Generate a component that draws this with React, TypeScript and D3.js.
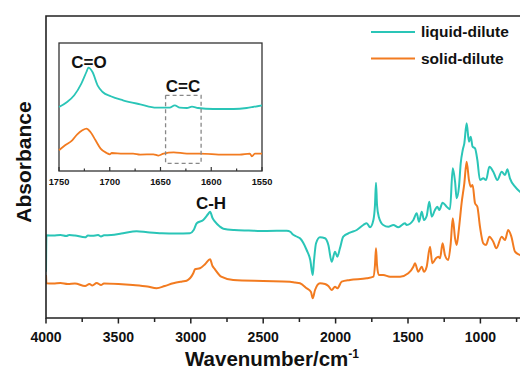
import React from 'react';
import * as d3 from 'd3';

// main spectrum, wavenumber (cm-1) and absorbance (a.u.)
const liquidWn = [4000, 3997, 3950, 3900, 3860, 3840, 3800, 3730, 3710, 3680, 3640, 3620, 3600, 3550, 3480, 3400, 3374, 3300, 3200, 3100, 3006, 2980, 2959, 2914, 2880, 2867, 2850, 2833, 2800, 2775, 2700, 2600, 2476, 2338, 2310, 2303, 2270, 2246, 2200, 2175, 2158, 2150, 2135, 2108, 2073, 2050, 2027, 2004, 1988, 1970, 1947, 1901, 1854, 1809, 1785, 1762, 1739, 1728, 1721, 1714, 1702, 1671, 1636, 1601, 1567, 1521, 1509, 1463, 1440, 1424, 1405, 1390, 1371, 1353, 1336, 1314, 1298, 1284, 1261, 1233, 1210, 1191, 1175, 1164, 1148, 1136, 1122, 1111, 1095, 1079, 1067, 1054, 1037, 1021, 1003, 980, 961, 938, 911, 883, 853, 830, 814, 796, 761, 727, 700];
const liquidAbs = [0.463, 0.827, 0.825, 0.83, 0.82, 0.83, 0.825, 0.807, 0.825, 0.822, 0.83, 0.815, 0.827, 0.83, 0.845, 0.865, 0.867, 0.857, 0.847, 0.845, 0.847, 0.88, 0.947, 0.98, 1.04, 1.063, 1.0, 0.963, 0.915, 0.893, 0.88, 0.875, 0.87, 0.873, 0.86, 0.847, 0.815, 0.797, 0.68, 0.58, 0.43, 0.56, 0.747, 0.807, 0.797, 0.73, 0.563, 0.663, 0.613, 0.697, 0.813, 0.853, 0.88, 0.93, 0.947, 0.907, 0.98, 1.13, 1.353, 1.13, 1.013, 0.93, 0.913, 0.93, 0.907, 0.947, 0.93, 0.98, 1.047, 0.963, 1.063, 0.98, 1.02, 1.163, 1.013, 1.08, 1.113, 1.08, 1.153, 1.113, 1.087, 1.497, 1.363, 1.197, 1.313, 1.547, 1.68, 1.747, 1.947, 1.763, 1.813, 1.713, 1.697, 1.58, 1.38, 1.397, 1.38, 1.513, 1.463, 1.38, 1.463, 1.43, 1.487, 1.397, 1.313, 1.263, 1.24];

const solidWn = [4000, 3997, 3950, 3900, 3850, 3800, 3730, 3700, 3680, 3650, 3620, 3600, 3500, 3400, 3300, 3236, 3180, 3121, 3060, 3029, 2983, 2971, 2937, 2900, 2867, 2850, 2833, 2790, 2707, 2500, 2315, 2280, 2246, 2200, 2170, 2158, 2142, 2108, 2073, 2050, 2027, 2004, 1988, 1958, 1901, 1785, 1739, 1728, 1721, 1714, 1702, 1671, 1624, 1555, 1498, 1463, 1452, 1429, 1405, 1390, 1371, 1348, 1332, 1307, 1291, 1279, 1261, 1245, 1222, 1205, 1191, 1175, 1164, 1148, 1130, 1111, 1095, 1079, 1067, 1054, 1037, 1021, 1003, 980, 961, 938, 911, 890, 853, 830, 808, 786, 761, 727, 700];
const solidAbs = [0.43, 0.347, 0.345, 0.35, 0.34, 0.345, 0.32, 0.34, 0.325, 0.35, 0.33, 0.345, 0.34, 0.33, 0.315, 0.297, 0.32, 0.347, 0.365, 0.373, 0.447, 0.487, 0.497, 0.54, 0.587, 0.52, 0.487, 0.413, 0.38, 0.37, 0.363, 0.355, 0.347, 0.297, 0.26, 0.197, 0.28, 0.347, 0.34, 0.32, 0.28, 0.313, 0.297, 0.363, 0.38, 0.397, 0.413, 0.53, 0.697, 0.53, 0.43, 0.43, 0.413, 0.413, 0.447, 0.513, 0.547, 0.463, 0.513, 0.463, 0.513, 0.713, 0.547, 0.597, 0.613, 0.597, 0.747, 0.63, 0.58, 0.747, 0.997, 0.797, 0.73, 0.897, 1.147, 1.347, 1.563, 1.38, 1.313, 1.33, 1.147, 1.113, 0.913, 0.747, 0.73, 0.813, 0.763, 0.697, 0.813, 0.78, 0.88, 0.813, 0.663, 0.63, 0.61];

// inset: 1750-1550 cm-1
const insetLiquidWn = [1750, 1742, 1735, 1728, 1723, 1721, 1717, 1712, 1707, 1699, 1687, 1670, 1654, 1641, 1636, 1631, 1624, 1619, 1613, 1598, 1578, 1565, 1559, 1550];
const insetLiquidAbs = [0.64, 0.69, 0.757, 0.874, 0.99, 1.034, 0.99, 0.857, 0.79, 0.747, 0.707, 0.667, 0.634, 0.634, 0.657, 0.634, 0.63, 0.644, 0.63, 0.62, 0.62, 0.63, 0.64, 0.657];
const insetSolidWn = [1750, 1744, 1737, 1732, 1727, 1723, 1719, 1714, 1709, 1703, 1700, 1698, 1687, 1677, 1670, 1657, 1652, 1647, 1637, 1624, 1611, 1588, 1572, 1562, 1560, 1557, 1550];
const insetSolidAbs = [0.207, 0.257, 0.307, 0.367, 0.407, 0.424, 0.39, 0.307, 0.224, 0.18, 0.167, 0.18, 0.174, 0.174, 0.164, 0.167, 0.154, 0.174, 0.187, 0.174, 0.174, 0.164, 0.164, 0.174, 0.147, 0.174, 0.174];

const mainTicks = [4000, 3500, 3000, 2500, 2000, 1500, 1000];
const mainMinor = [3750, 3250, 2750, 2250, 1750, 1250, 750];
const insetTicks = [1750, 1700, 1650, 1600, 1550];
const insetMinor = [1725, 1675, 1625, 1575];

const seriesNames = ['liquid-dilute', 'solid-dilute'];
const colors = ['#2ac5b7', '#f27b20'];

const font = '"Liberation Sans", Arial, sans-serif';

type Pt = { wn: number; a: number };
const zip = (w: number[], a: number[]): Pt[] => w.map((wn, i) => ({ wn, a: a[i] }));

export default function App() {
  const W = 520, H = 372;
  const m = { left: 46, top: 16, bottom: 318 };

  // axis runs past the right edge of the picture (cut off like the original)
  const x = d3.scaleLinear().domain([4000, 400]).range([m.left, m.left + 3600 * 0.1448]);
  const y = d3.scaleLinear().domain([0, 3.02]).range([m.bottom, m.top]);

  const ins = { left: 59, right: 262, top: 43, bottom: 171 };
  const ix = d3.scaleLinear().domain([1750, 1550]).range([ins.left, ins.right]);
  const iy = d3.scaleLinear().domain([0, 1.28]).range([ins.bottom, ins.top]);

  const line = d3.line<Pt>().x(d => x(d.wn)).y(d => y(d.a)).curve(d3.curveMonotoneX);
  const iline = d3.line<Pt>().x(d => ix(d.wn)).y(d => iy(d.a)).curve(d3.curveMonotoneX);

  const mainData = [zip(liquidWn, liquidAbs), zip(solidWn, solidAbs)];
  const insetData = [zip(insetLiquidWn, insetLiquidAbs), zip(insetSolidWn, insetSolidAbs)];

  return (
    <div style={{ position: 'absolute', left: 0, top: 0 }}>
      <svg width={W} height={H} style={{ display: 'block', background: '#fff' }} fontFamily={font}>
        <defs>
          <clipPath id="plot">
            <rect x={m.left} y={m.top} width={W - m.left} height={m.bottom - m.top} />
          </clipPath>
        </defs>

        {mainData.map((d, i) => (
          <path key={i} d={line(d) || ''} fill="none" stroke={colors[i]} strokeWidth={2}
            strokeLinejoin="round" clipPath="url(#plot)" />
        ))}

        {/* frame */}
        <path d={`M${W + 2},${m.top}H${m.left}V${m.bottom}H${W + 2}`} fill="none" stroke="#222" strokeWidth={1.6} />
        {mainTicks.map(t => (
          <line key={t} x1={x(t)} x2={x(t)} y1={m.bottom} y2={m.bottom + 5.5} stroke="#222" strokeWidth={1.5} />
        ))}
        {mainMinor.map(t => (
          <line key={t} x1={x(t)} x2={x(t)} y1={m.bottom} y2={m.bottom + 4} stroke="#222" strokeWidth={1.5} />
        ))}
        {mainTicks.map(t => (
          <text key={t} x={x(t)} y={342} textAnchor="middle" fontSize={14} fontWeight="bold" fill="#111">{t}</text>
        ))}
        <text x={272} y={366} textAnchor="middle" fontSize={20.5} fontWeight="bold" fill="#111">
          Wavenumber/cm<tspan fontSize={12} dy={-8}>-1</tspan>
        </text>
        <text transform={`translate(31,162) rotate(-90)`} textAnchor="middle" fontSize={21} fontWeight="bold" fill="#111">Absorbance</text>

        <text x={211} y={209} textAnchor="middle" fontSize={17} fontWeight="bold" fill="#111">C-H</text>

        {/* legend */}
        {seriesNames.map((s, i) => (
          <g key={s} transform={`translate(0,${32 + i * 26.5})`}>
            <line x1={371} x2={415} y1={0} y2={0} stroke={colors[i]} strokeWidth={2} />
            <text x={421} y={5} fontSize={15.5} fontWeight="bold" fill="#111">{s}</text>
          </g>
        ))}

        {/* inset */}
        <rect x={ins.left} y={ins.top} width={ins.right - ins.left} height={ins.bottom - ins.top} fill="#fff" stroke="#333" strokeWidth={1.3} />
        {insetData.map((d, i) => (
          <path key={i} d={iline(d) || ''} fill="none" stroke={colors[i]} strokeWidth={1.8} strokeLinejoin="round" />
        ))}
        <rect x={ix(1645)} y={iy(0.757)} width={ix(1610) - ix(1645)} height={iy(0.077) - iy(0.757)}
          fill="none" stroke="#888" strokeWidth={1.3} strokeDasharray="4,3" />
        {insetTicks.map(t => (
          <line key={t} x1={ix(t)} x2={ix(t)} y1={ins.bottom} y2={ins.bottom - 4} stroke="#333" strokeWidth={1.2} />
        ))}
        {insetMinor.map(t => (
          <line key={t} x1={ix(t)} x2={ix(t)} y1={ins.bottom} y2={ins.bottom - 2.5} stroke="#333" strokeWidth={1.2} />
        ))}
        {insetTicks.map(t => (
          <text key={t} x={ix(t)} y={185} textAnchor="middle" fontSize={9.3} fontWeight="bold" fill="#111">{t}</text>
        ))}
        <text x={89} y={68} textAnchor="middle" fontSize={17} fontWeight="bold" fill="#111">C=O</text>
        <text x={183} y={92} textAnchor="middle" fontSize={17} fontWeight="bold" fill="#111">C=C</text>
      </svg>
    </div>
  );
}
